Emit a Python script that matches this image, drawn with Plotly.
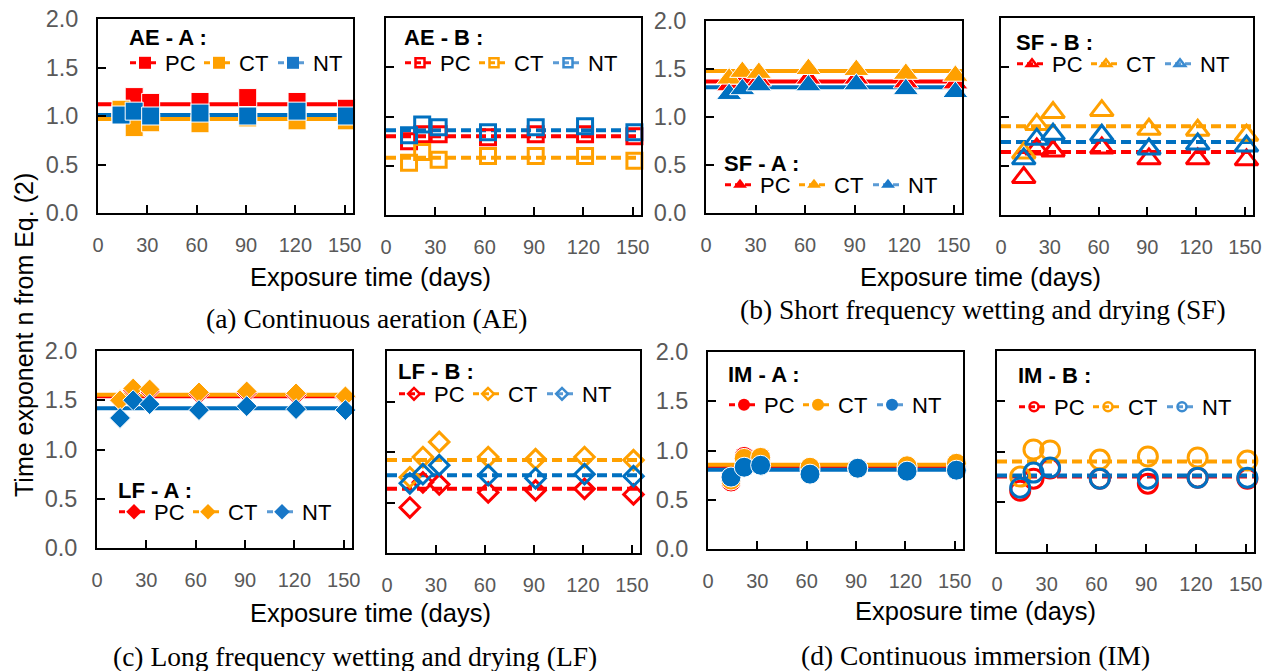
import plotly.graph_objects as go

# the page body has an 8px default margin: figure is sized to fit the window
PAD = 8
W, H = 1276 - PAD, 671 - PAD

# ---------------- data ----------------
days = [14, 22, 32, 62, 91, 121, 151]
series_names = ["PC", "CT", "NT"]

AE_A_PC = [1.03, 1.20, 1.14, 1.15, 1.19, 1.15, 1.08]
AE_A_CT = [1.07, 0.88, 0.93, 0.92, 0.98, 0.95, 0.95]
AE_A_NT = [1.01, 1.05, 1.00, 1.03, 1.00, 1.05, 1.00]
AE_A_FIT = [1.12, 0.97, 1.01]

AE_B_PC = [0.75, 0.82, 0.82, 0.79, 0.82, 0.82, 0.80]
AE_B_CT = [0.53, 0.64, 0.56, 0.60, 0.60, 0.60, 0.55]
AE_B_NT = [0.81, 0.92, 0.89, 0.84, 0.89, 0.90, 0.84]
AE_B_FIT = [0.80, 0.58, 0.86]

SF_A_PC = [1.33, 1.40, 1.38, 1.40, 1.40, 1.36, 1.35]
SF_A_CT = [1.40, 1.47, 1.46, 1.50, 1.49, 1.45, 1.43]
SF_A_NT = [1.24, 1.29, 1.33, 1.33, 1.34, 1.29, 1.26]
SF_A_FIT = [1.37, 1.48, 1.31]

SF_B_PC = [0.38, 0.67, 0.65, 0.68, 0.57, 0.57, 0.56]
SF_B_CT = [0.63, 0.92, 1.04, 1.06, 0.87, 0.86, 0.81]
SF_B_NT = [0.57, 0.77, 0.82, 0.81, 0.67, 0.72, 0.70]
SF_B_FIT = [0.64, 0.90, 0.74]

LF_A_PC = [1.50, 1.60, 1.59, 1.56, 1.57, 1.55, 1.53]
LF_A_CT = [1.50, 1.62, 1.61, 1.58, 1.59, 1.57, 1.54]
LF_A_NT = [1.32, 1.50, 1.46, 1.40, 1.44, 1.41, 1.40]
LF_A_FIT = [1.54, 1.555, 1.42]

LF_B_PC = [0.45, 0.70, 0.68, 0.60, 0.62, 0.635, 0.58]
LF_B_CT = [0.75, 0.95, 1.10, 0.95, 0.93, 0.95, 0.92]
LF_B_NT = [0.69, 0.78, 0.87, 0.77, 0.74, 0.78, 0.76]
LF_B_FIT = [0.635, 0.92, 0.77]

IM_A_PC = [0.68, 0.94, 0.93, 0.80, 0.82, 0.82, 0.84]
IM_A_CT = [0.70, 0.92, 0.93, 0.83, 0.82, 0.845, 0.87]
IM_A_NT = [0.73, 0.83, 0.85, 0.76, 0.82, 0.79, 0.80]
IM_A_FIT = [0.83, 0.855, 0.805]

IM_B_PC = [0.61, 0.73, 0.83, 0.73, 0.68, 0.74, 0.73]
IM_B_CT = [0.75, 1.02, 1.01, 0.92, 0.95, 0.94, 0.91]
IM_B_NT = [0.64, 0.79, 0.84, 0.73, 0.73, 0.74, 0.74]
IM_B_FIT = [0.75, 0.90, 0.76]

x_ticks = [0, 30, 60, 90, 120, 150]
y_ticks = [0.0, 0.5, 1.0, 1.5, 2.0]
y_ticktext = ["0.0", "0.5", "1.0", "1.5", "2.0"]
X_RANGE = [0, 155]
Y_RANGE = [0, 2]

# ---------------- styling ----------------
COLORS = ["#FF0000", "#FFA000", "#0070C0"]
LEG_LINE = ["#FF0000", "#FFA000", "#5B9BD5"]
GRAY = "#595959"


def px_x(px):
    return (px - PAD) / W


def px_y(py):
    return 1 - (py - PAD) / H


# title, data, fit, filled?, symbol, size, box (x0,x1,y0,y1 px), title pos, legend items pos, A-panel?
panels = [
    ("AE - A :", [AE_A_PC, AE_A_CT, AE_A_NT], AE_A_FIT, True, "square", 18, (98, 353, 19, 213), (127, 38), (128, 63), True),
    ("AE - B :", [AE_B_PC, AE_B_CT, AE_B_NT], AE_B_FIT, False, "square-open", 15, (386, 641, 18, 215), (402, 38), (403, 63), False),
    ("SF - A :", [SF_A_PC, SF_A_CT, SF_A_NT], SF_A_FIT, True, "triangle-up", 22, (706, 962, 21, 213), (722, 163), (723, 185), True),
    ("SF - B :", [SF_B_PC, SF_B_CT, SF_B_NT], SF_B_FIT, False, "triangle-up-open", 20, (1001, 1253, 18, 215), (1014, 42), (1015, 64), False),
    ("LF - A :", [LF_A_PC, LF_A_CT, LF_A_NT], LF_A_FIT, True, "diamond", 16, (97, 352, 351, 548), (116, 490), (117, 512), True),
    ("LF - B :", [LF_B_PC, LF_B_CT, LF_B_NT], LF_B_FIT, False, "diamond-open", 15, (387, 640, 351, 553), (396, 371), (397, 394), False),
    ("IM - A :", [IM_A_PC, IM_A_CT, IM_A_NT], IM_A_FIT, True, "circle", 20, (708, 963, 352, 549), (726, 374), (727, 405), True),
    ("IM - B :", [IM_B_PC, IM_B_CT, IM_B_NT], IM_B_FIT, False, "circle-open", 19, (997, 1254, 351, 552), (1016, 375), (1017, 407), False),
]

fig = go.Figure()
layout = dict(
    width=W, height=H, margin=dict(l=0, r=0, t=0, b=0, autoexpand=False),
    paper_bgcolor="white", plot_bgcolor="white", showlegend=True,
)
annotations = []

for i, (title, data, fit, filled, symbol, msize, box, tpos, lpos, is_a) in enumerate(panels):
    k = "" if i == 0 else str(i + 1)
    xa, ya = "x" + k, "y" + k
    lg = "legend" if i == 0 else "legend" + str(i + 1)
    x0, x1, y0, y1 = box
    layout["xaxis" + k] = dict(
        domain=[px_x(x0), px_x(x1)], range=X_RANGE, tickvals=x_ticks,
        ticks="inside", ticklen=8, tickwidth=2, tickcolor="black",
        showline=True, linecolor="black", linewidth=2, mirror=True,
        showgrid=False, zeroline=False, anchor=ya, ticklabeloverflow="allow",
        tickfont=dict(family="Liberation Sans Narrow, Arial Narrow, Liberation Sans, Arial", size=20, color=GRAY),
        ticklabelstandoff=13,
    )
    layout["yaxis" + k] = dict(
        domain=[px_y(y1), px_y(y0)], range=Y_RANGE, tickvals=y_ticks, ticktext=y_ticktext,
        ticks="inside", ticklen=8, tickwidth=2, tickcolor="black",
        showline=True, linecolor="black", linewidth=2, mirror=True,
        showgrid=False, zeroline=False, anchor=xa, showticklabels=is_a,
        ticklabeloverflow="allow",
        tickfont=dict(family="Liberation Sans, Arial", size=23.5, color=GRAY),
        ticklabelstandoff=13,
    )
    dash = "solid" if filled else "10px,5px"
    # fitted lines
    for j, f in enumerate(fit):
        fig.add_trace(go.Scatter(
            x=X_RANGE, y=[f, f], mode="lines", xaxis=xa, yaxis=ya,
            line=dict(color=COLORS[j], width=4, dash=dash), showlegend=False, hoverinfo="skip",
        ))
    # data markers
    for j, vals in enumerate(data):
        if filled:
            marker = dict(symbol=symbol, size=msize, color=COLORS[j], line=dict(color="white", width=1))
        else:
            marker = dict(symbol=symbol, size=msize, color=COLORS[j], line=dict(color=COLORS[j], width=3))
        fig.add_trace(go.Scatter(
            x=days, y=vals, mode="markers", xaxis=xa, yaxis=ya, marker=marker,
            showlegend=False, name=series_names[j], cliponaxis=False,
        ))
    # legend entries
    for j, nm in enumerate(series_names):
        if filled:
            lm = dict(symbol=symbol, size=12, color=COLORS[j] if j < 2 else "#1A78C8", line=dict(width=0))
        else:
            lm = dict(symbol=symbol, size=9, color=COLORS[j] if j < 2 else "#3B8BD0", line=dict(color=COLORS[j], width=2.5))
        fig.add_trace(go.Scatter(
            x=[None], y=[None], mode="lines+markers", xaxis=xa, yaxis=ya, name=nm,
            line=dict(color=LEG_LINE[j], width=3, dash="6px,4px"), marker=lm,
            legend=lg, showlegend=True,
        ))
    lx, ly = lpos
    layout[lg] = dict(
        x=px_x(lx - 3), y=px_y(ly), xanchor="left", yanchor="middle", xref="paper", yref="paper",
        orientation="h", bgcolor="rgba(0,0,0,0)", borderwidth=0,
        font=dict(family="Liberation Sans, Arial", size=22, color="black"),
        itemwidth=30, tracegroupgap=0, entrywidth=29, entrywidthmode="pixels",
    )
    tx, ty = tpos
    annotations.append(dict(
        text="<b>" + title + "</b>", x=px_x(tx), y=px_y(ty), xref="paper", yref="paper",
        xanchor="left", yanchor="middle", showarrow=False,
        font=dict(family="Liberation Sans, Arial", size=22, color="black"),
    ))

for cx, cy in [(370, 277), (980, 277), (370, 613), (975, 611)]:
    annotations.append(dict(
        text="Exposure time (days)", x=px_x(cx), y=px_y(cy), xref="paper", yref="paper",
        xanchor="center", yanchor="middle", showarrow=False,
        font=dict(family="Liberation Sans, Arial", size=25.5, color="black"),
    ))
captions = [
    ("(a) Continuous aeration (AE)", 367, 318),
    ("(b) Short frequency wetting and drying (SF)", 983, 310),
    ("(c) Long frequency wetting and drying (LF)", 355, 656),
    ("(d) Continuous immersion (IM)", 975, 655),
]
for txt, cx, cy in captions:
    annotations.append(dict(
        text=txt, x=px_x(cx), y=px_y(cy), xref="paper", yref="paper",
        xanchor="center", yanchor="middle", showarrow=False,
        font=dict(family="Liberation Serif, Times New Roman", size=27.5, color="black"),
    ))
annotations.append(dict(
    text="Time exponent n from Eq. (2)", x=px_x(24), y=px_y(335), xref="paper", yref="paper",
    xanchor="center", yanchor="middle", showarrow=False, textangle=-90,
    font=dict(family="Liberation Sans, Arial", size=25, color="black"),
))
layout["annotations"] = annotations

fig.update_layout(**layout)
fig.write_html("out.html")
